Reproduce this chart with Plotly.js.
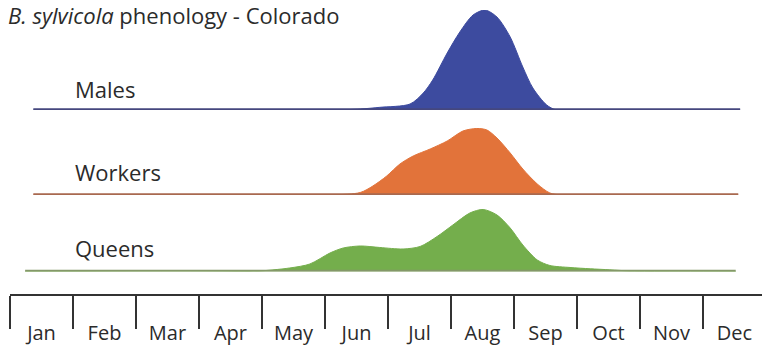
<!DOCTYPE html>
<html>
<head>
<meta charset="utf-8">
<script src="https://cdn.plot.ly/plotly-3.0.1.min.js"></script>
<style>html,body{margin:0;padding:0;background:#fff;}#chart{width:762px;height:346px;}</style>
</head>
<body>
<div id="chart"></div>
<script>
// Month labels (centred on each month) and month boundaries
const months = ["Jan","Feb","Mar","Apr","May","Jun","Jul","Aug","Sep","Oct","Nov","Dec"];
const monthEdges = [0,1,2,3,4,5,6,7,8,9,10,11];
const monthCenters = [0.5,1.5,2.5,3.5,4.5,5.5,6.5,7.5,8.5,9.5,10.5,11.5];

// Relative abundance (time in months from 1 Jan)
const malesX   = [0.37, 5.08, 5.56, 5.87, 6.35, 6.56, 6.71, 6.94, 7.14, 7.35, 7.54, 7.73, 7.94, 8.14, 8.30, 8.52, 8.68, 11.59];
const malesY   = [0,    0,    1,    2.7,  6,    17,   30,   57,   78,   95,   100,  93,   73,   43,   22,   5,    0,    0];

const workersX = [0.37, 5.08, 5.56, 5.76, 5.98, 6.19, 6.40, 6.67, 6.94, 7.19, 7.41, 7.57, 7.73, 7.94, 8.14, 8.37, 8.57, 8.78, 11.56];
const workersY = [0,    0,    2.5,  9,    19,   31,   39,   46,   54,   64,   66.5, 65,   57,   42,   26,   11,   2,    0,    0];

const queensX  = [0.24, 3.81, 4.44, 4.76, 5.08, 5.29, 5.56, 5.87, 6.24, 6.51, 6.78, 7.03, 7.30, 7.51, 7.73, 7.94, 8.14, 8.37, 8.57, 8.89, 9.21, 9.52, 9.84, 10.16, 11.52];
const queensY  = [0,    0,    3.5,  7.5,  18.5, 23.5, 25.5, 24,   22.5, 25,   35,   46.5, 58.5, 62,   56.5, 43.5, 26.5, 11.5, 6,    4,    2.7,  1.7,  0.5,  0,     0];

const series = [
  {name: "Males",   x: malesX,   y: malesY,   axis: "y",  fill: "#3d4b9f", edge: "#45477e"},
  {name: "Workers", x: workersX, y: workersY, axis: "y2", fill: "#e2733a", edge: "#a8694f"},
  {name: "Queens",  x: queensX,  y: queensY,  axis: "y3", fill: "#74ae4c", edge: "#849869"}
];

const traces = [];
series.forEach(s => {
  traces.push({
    type: "scatter", mode: "lines", x: s.x, y: s.y, yaxis: s.axis, xaxis: "x",
    fill: "tozeroy", fillcolor: s.fill,
    line: {color: s.fill, width: 1, shape: "spline", smoothing: 0.8},
    hoverinfo: "skip", showlegend: false, cliponaxis: false
  });
  traces.push({
    type: "scatter", mode: "lines", x: [s.x[0], s.x[s.x.length-1]], y: [0, 0], yaxis: s.axis, xaxis: "x",
    line: {color: s.edge, width: 3.5}, hoverinfo: "skip", showlegend: false, cliponaxis: false
  });
});
// invisible trace to carry the month-label axis
traces.push({type: "scatter", mode: "markers", x: monthCenters, y: monthCenters.map(() => 0),
  xaxis: "x2", yaxis: "y3", marker: {opacity: 0}, hoverinfo: "skip", showlegend: false});

const FONT = "'Open Sans', 'DejaVu Sans', sans-serif";
const TXT = "#2b2b2b";
const xr = [0, 11.937];

const labelY = {Males: 21.5, Workers: 23, Queens: 23};
const annotations = series.map(s => ({
  text: s.name, xref: "x", yref: s.axis, x: 1.0, y: labelY[s.name],
  xanchor: "left", yanchor: "middle", showarrow: false,
  font: {family: FONT, size: 22, color: TXT}
}));

const layout = {
  width: 762, height: 346,
  margin: {l: 10, r: 0, t: 0, b: 51},
  paper_bgcolor: "#ffffff", plot_bgcolor: "rgba(0,0,0,0)",
  title: {text: "<i>B. sylvicola</i> phenology - Colorado", xref: "container", yref: "container",
          x: 8/762, xanchor: "left", y: 1 - 16/346, yanchor: "middle",
          font: {family: FONT, size: 22, color: TXT}},
  xaxis: {range: xr, anchor: "free", position: 0, showline: true, linecolor: "#333", linewidth: 2,
          tickvals: monthEdges, ticks: "outside", ticklen: 33, tickwidth: 2, tickcolor: "#333",
          showticklabels: false, showgrid: false, zeroline: false, fixedrange: true},
  xaxis2: {range: xr, overlaying: "x", anchor: "free", position: 0, side: "bottom", showline: false,
           tickvals: monthCenters, ticktext: months, ticks: "outside", ticklen: 20, tickcolor: "rgba(0,0,0,0)",
           showgrid: false, zeroline: false, tickfont: {family: FONT, size: 20, color: TXT}},
  yaxis:  {domain: [0.627, 0.966], range: [0, 100], visible: false, fixedrange: true},
  yaxis2: {domain: [0.339, 0.678], range: [0, 100], visible: false, fixedrange: true},
  yaxis3: {domain: [0.0797, 0.4187], range: [0, 100], visible: false, fixedrange: true},
  annotations: annotations,
  showlegend: false
};

Plotly.newPlot("chart", traces, layout, {staticPlot: true, displayModeBar: false});
</script>
</body>
</html>
